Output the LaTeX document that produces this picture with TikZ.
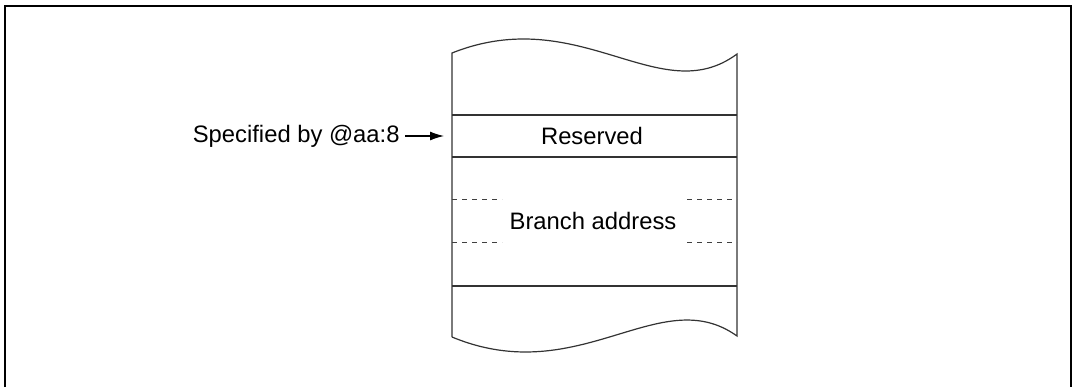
\documentclass[tikz,border=0pt]{standalone}
\usepackage{fontspec}
\setmainfont{Liberation Sans}
\usetikzlibrary{positioning,arrows.meta}
\tikzstyle{frame} = [line width=1pt, draw=black]
\tikzstyle{stack} = [line width=0.6pt, draw=black!80]
\tikzstyle{gap} = [line width=0.4pt, draw=black!75, dash pattern=on 2.5pt off 2.5pt]
\tikzstyle{pointer} = [line width=0.6pt, -{Latex[length=7pt,width=4.5pt]}]

\begin{document}
\begin{tikzpicture}[x=0.5pt, y=-0.5pt, font=\fontsize{11.9}{14}\selectfont, inner sep=2.5pt]
            \useasboundingbox (0,0) rectangle (1075,387);
            \def\colL{452}
            \def\colR{737}

            % Frame
            \draw[frame] (5,387) -- (5,6) -- (1071,6) -- (1071,387);

            % Stack outline with torn ends
            \draw[stack] (\colL,337) -- (\colL,53)
              .. controls (580,2) and (660,111) .. (\colR,54) -- (\colR,336)
              .. controls (660,281) and (580,390) .. (\colL,337);

            % Row borders
            \draw[stack] (\colL,115) -- (\colR,115);
            \draw[stack] (\colL,157) -- (\colR,157);
            \draw[stack] (\colL,286) -- (\colR,286);

            % Broken borders round the branch address
            \draw[gap] (\colL,199) -- (502,199);
            \draw[gap] (\colL,242) -- (502,242);
            \draw[gap] (687,199) -- (\colR,199);
            \draw[gap] (687,242) -- (\colR,242);

            % Labels
            \node (reserved) at (592,136) {Reserved};
            \node (branch) at (593,221) {Branch address};
            \coordinate (slot) at (444,136);
            \node[anchor=east] (spec) at (405,136) {Specified by @aa:8};
            \draw[pointer] (spec.east) -- (slot);
          \end{tikzpicture}
\end{document}
